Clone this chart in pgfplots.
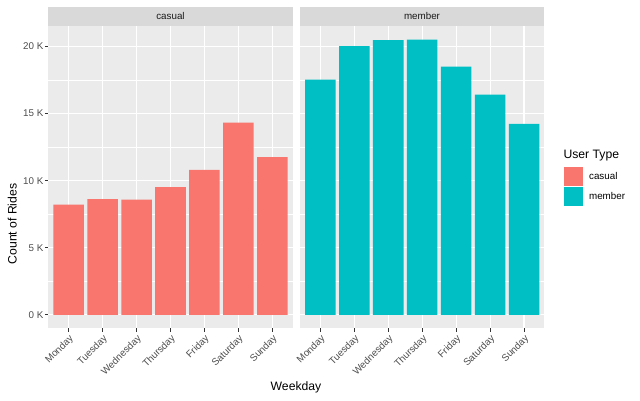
\documentclass[border=0pt]{standalone}
\usepackage{pgfplots}
\pgfplotsset{compat=1.18}
\usepackage{fontspec}
\setmainfont{Liberation Sans}
\definecolor{casual}{HTML}{F8766D}
\definecolor{member}{HTML}{00BFC4}
\definecolor{panelbg}{HTML}{EBEBEB}
\definecolor{stripbg}{HTML}{D9D9D9}
\definecolor{ticklab}{HTML}{4D4D4D}
\definecolor{tickc}{HTML}{333333}
\definecolor{stripc}{HTML}{1A1A1A}
\pgfplotsset{sqlegend/.style={legend image code/.code={\fill[##1] (0pt,-9.5pt) rectangle (19.4pt,9.5pt);}}}
\begin{document}
\begin{tikzpicture}[x=1pt,y=1pt]
\path[use as bounding box] (0,0) rectangle (640,401);
\pgfplotsset{facet/.style={
  scale only axis, width=244.4pt, height=302.6pt, anchor=south west,
  xmin=0.4, xmax=7.6, ymin=-1000, ymax=21550,
  axis background/.style={fill=panelbg},
  axis line style={draw=none},
  xtick={1,2,3,4,5,6,7},
  xticklabels={Monday,Tuesday,Wednesday,Thursday,Friday,Saturday,Sunday},
  ytick={0,5000,10000,15000,20000},
  minor ytick={2500,7500,12500,17500},
  xmajorgrids, ymajorgrids, yminorgrids,
  major grid style={white,line width=1.07pt},
  minor grid style={white,line width=0.53pt},
  tick align=outside, xtick pos=bottom, ytick pos=left,
  major tick length=3.3pt, minor tick length=0pt,
  tick style={color=tickc, line width=0.9pt},
  xticklabel style={rotate=45, anchor=north east, font=\fontsize{9.8}{10}\selectfont, text=ticklab, inner sep=1.5pt},
  yticklabel style={font=\fontsize{9.8}{10}\selectfont, text=ticklab, inner sep=1.5pt},
  ybar, bar width=0.9,
  clip=false,
}}
\begin{axis}[facet, at={(48.3pt,72.7pt)},
  yticklabels={0 K,5 K,10 K,15 K,20 K}]
\addplot[fill=casual, draw=none] coordinates {
(1,8220) (2,8620) (3,8590) (4,9520) (5,10800) (6,14330) (7,11750)};
\end{axis}
\begin{axis}[facet, at={(300pt,72.7pt)},
  yticklabels={}, ytick style={draw=none},
  legend style={at={(axis description cs:1.079,0.534)}, anchor=north west,
    draw=none, fill=none, inner sep=0pt, outer sep=0pt, row sep=1.5pt,
    font=\fontsize{9.8}{10}\selectfont, cells={anchor=west},
    /tikz/every odd column/.style={column sep=4pt}},
  legend cell align=left]
\addlegendimage{fill=casual, draw=none, sqlegend}
\addlegendentry{casual}
\addplot[fill=member, draw=none, sqlegend] coordinates {
(1,17530) (2,20020) (3,20470) (4,20510) (5,18500) (6,16420) (7,14230)};
\addlegendentry{member}
\end{axis}
\fill[stripbg] (48.3,375.3) rectangle (292.7,394.3);
\fill[stripbg] (300,375.3) rectangle (544,394.3);
\node[font=\fontsize{9.8}{10}\selectfont, text=stripc] at (170.5,384.8) {casual};
\node[font=\fontsize{9.8}{10}\selectfont, text=stripc] at (422,384.8) {member};
\node[font=\fontsize{12.2}{13}\selectfont, anchor=base] at (296,10) {Weekday};
\node[font=\fontsize{12.2}{13}\selectfont, anchor=base, rotate=90] at (16.5,177) {Count of Rides};
\node[font=\fontsize{12.2}{13}\selectfont, anchor=base west, inner sep=0pt] at (563.3,242) {User Type};
\end{tikzpicture}
\end{document}
